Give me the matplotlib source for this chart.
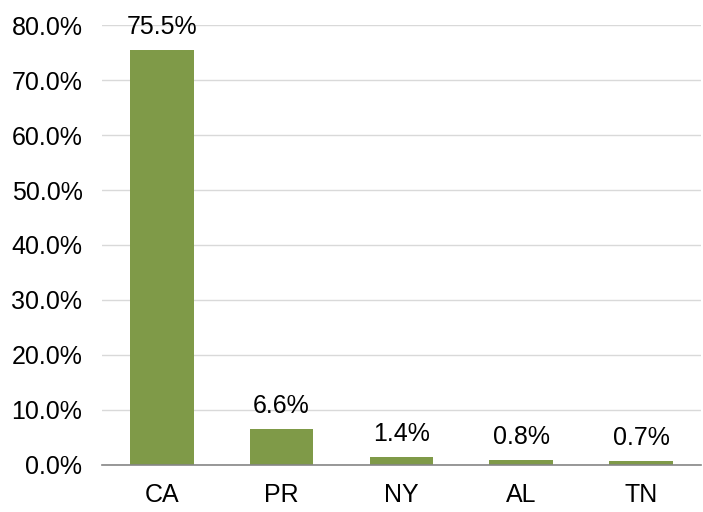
import matplotlib.pyplot as plt
from matplotlib.ticker import FuncFormatter

# data
states = ['CA', 'PR', 'NY', 'AL', 'TN']
share = [75.5, 6.6, 1.4, 0.8, 0.7]

plt.rcParams['font.family'] = ['Liberation Sans', 'DejaVu Sans']

fig = plt.figure(figsize=(7.03, 5.12), dpi=100)
ax = fig.add_axes([0.145, 0.092, 0.852, 0.859])

bars = ax.bar(states, share, width=0.53, color='#7F9A48', zorder=3)

for b, v in zip(bars, share):
    ax.annotate(f'{v:.1f}%', (b.get_x() + b.get_width() / 2, v),
                xytext=(0, 8), textcoords='offset points',
                ha='center', va='bottom', fontsize=18)

ax.set_ylim(0, 80)
ax.set_xlim(-0.5, len(states) - 0.5)
ax.set_yticks(range(0, 81, 10))
ax.yaxis.set_major_formatter(FuncFormatter(lambda y, _: f'{y:.1f}%'))
ax.grid(axis='y', color='#D9D9D9', linewidth=1, zorder=0)
ax.tick_params(axis='both', length=0, labelsize=18)
ax.tick_params(axis='y', pad=14)
ax.tick_params(axis='x', pad=13)

for s in ['top', 'right', 'left']:
    ax.spines[s].set_visible(False)
ax.spines['bottom'].set_color('#868686')
ax.spines['bottom'].set_linewidth(1.2)
ax.spines['bottom'].set_zorder(4)

fig.savefig('out.png', dpi=100)
